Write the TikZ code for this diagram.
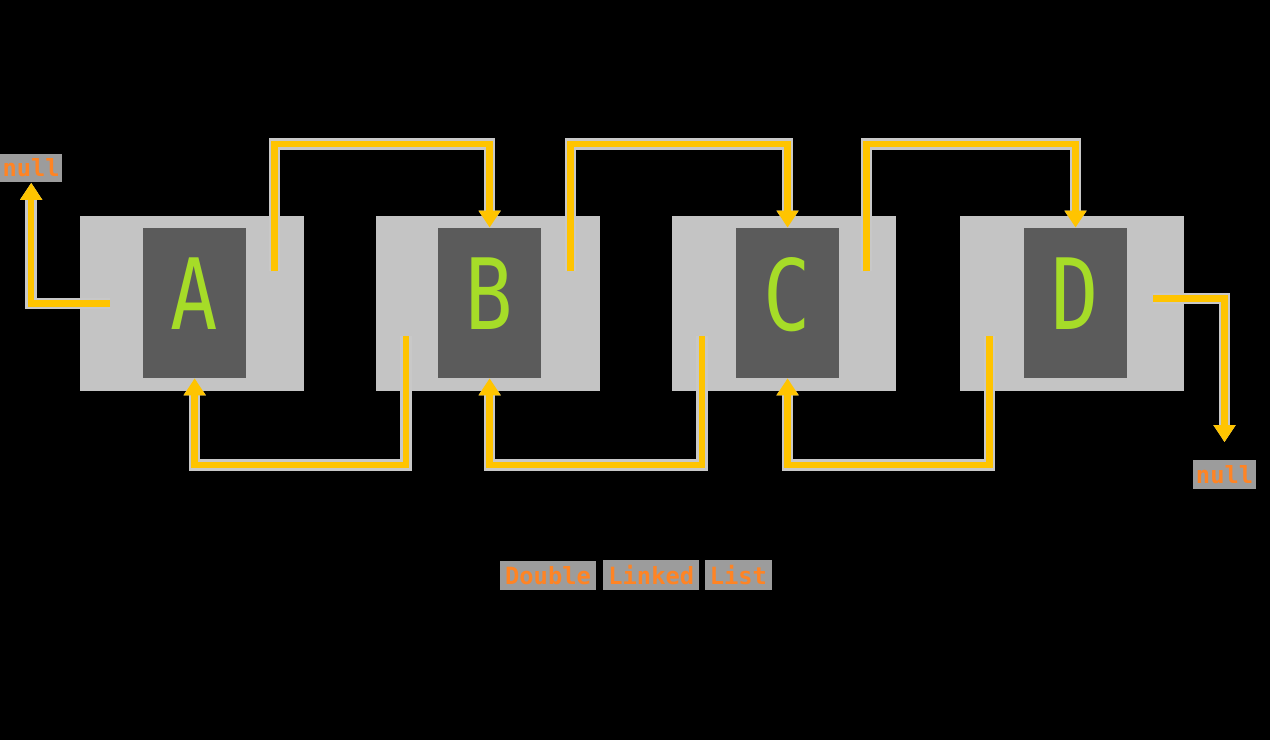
\documentclass[tikz,border=0pt]{standalone}
\usepackage{fontspec}
\usetikzlibrary{arrows.meta}
\newfontfamily\keyfont[FakeStretch=0.8]{DejaVu Sans Mono}
\newfontfamily\lblfont{DejaVu Sans Mono Bold}
\definecolor{cellgray}{HTML}{C4C4C4}
\definecolor{valgray}{HTML}{5B5B5B}
\definecolor{keygreen}{HTML}{A6DC28}
\definecolor{linkyellow}{HTML}{FFC400}
\definecolor{halogray}{HTML}{C8C8C8}
\definecolor{lblgray}{HTML}{9C9C9C}
\definecolor{lblorange}{HTML}{FF8424}
\tikzset{
  cell/.style={fill=cellgray, minimum width=4.48cm, minimum height=3.5cm, inner sep=0pt},
  val/.style={fill=valgray, minimum width=2.06cm, minimum height=3cm, inner sep=0pt,
    text=keygreen, text depth=0.36cm, font=\keyfont\fontsize{56}{56}\selectfont},
  link/.style={draw=linkyellow, line width=0.13cm, -{Triangle[width=0.42cm,length=0.34cm]},
    preaction={draw=halogray, line width=0.23cm}},
  lbl/.style={fill=lblgray, text=lblorange, font=\lblfont\fontsize{13.5}{14}\selectfont,
    inner xsep=1.5pt, inner ysep=3pt}
}

\begin{document}
\begin{tikzpicture}[x=0.02cm,y=-0.02cm]
    \fill[black] (0,0) rectangle (1270,740);
    % cells of the list
    \foreach \n/\x/\v in {A/192/194.5,B/488/489.5,C/784/787.5,D/1072/1075.5} {
        \node[cell] (cell\n) at (\x,303.5) {};
        \node[val] (val\n) at (\v,303) {\n};
        \coordinate (nxt\n) at ([shift={(-30,-32)}]cell\n.east);
        \coordinate (prv\n) at ([shift={(30,33)}]cell\n.west);
    }
    \coordinate (outL) at ([shift={(30,0)}]cellA.west);
    \coordinate (outR) at ([shift={(-31,-5)}]cellD.east);
    \node[lbl] (nullL) at (31,168) {null};
    \node[lbl] (nullR) at (1224.5,475) {null};
    % next pointers
    \draw[link] (nxtA) -- (nxtA |- 0,144) -| (valB.north);
    \draw[link] (nxtB) -- (nxtB |- 0,144) -| (valC.north);
    \draw[link] (nxtC) -- (nxtC |- 0,144) -| (valD.north);
    \draw[link, shorten >=18*0.02cm] (outR) -| (nullR.north);
    % prev pointers
    \draw[link] (prvB) -- (prvB |- 0,465) -| (valA.south);
    \draw[link] (prvC) -- (prvC |- 0,465) -| (valB.south);
    \draw[link] (prvD) -- (prvD |- 0,465) -| (valC.south);
    \draw[link] (outL) -| (nullL.south);
    \node[font=\lblfont\fontsize{13.5}{14}\selectfont, text=lblorange, inner sep=0pt] (title) at (636,575)
        {\fboxsep=3pt\colorbox{lblgray}{Double}\hspace{4pt}\colorbox{lblgray}{Linked}\hspace{3pt}\colorbox{lblgray}{List}};
\end{tikzpicture}
\end{document}
